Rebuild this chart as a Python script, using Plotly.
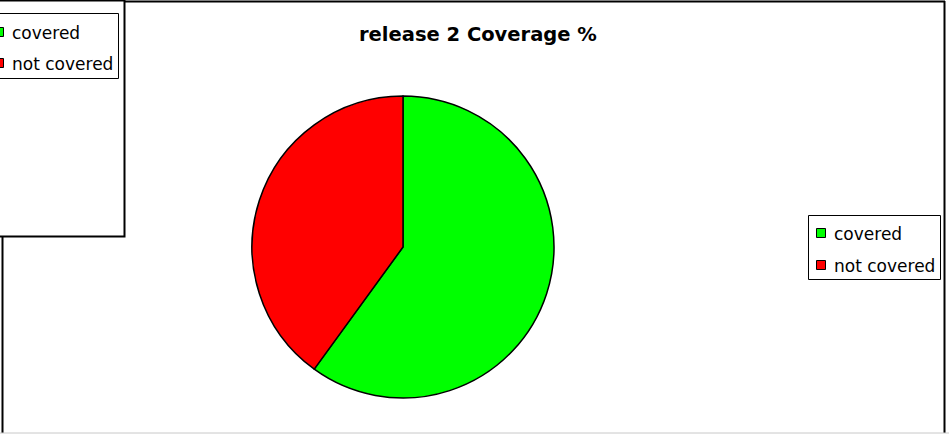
import plotly.graph_objects as go

# ---- data ----
labels = ["covered", "not covered"]
values = [60, 40]
colors = ["#00FF00", "#FF0000"]
title_text = "release 2 Coverage %"

W, H = 949, 434
FONT = "DejaVu Sans"

fig = go.Figure()

# pie (pixel box: x 251..555, y 96..398)
fig.add_trace(go.Pie(
    labels=labels, values=values, sort=False, direction="clockwise", rotation=0,
    marker=dict(colors=colors, line=dict(color="black", width=1.5)),
    textinfo="none", hoverinfo="label+percent", showlegend=False,
    domain=dict(x=[251 / W, 555 / W], y=[1 - 398 / H, 1 - 96 / H]),
))

shapes = []
annotations = []

# main frame
shapes.append(dict(type="line", x0=2.5, y0=1.5, x1=2.5, y1=433, line=dict(color="black", width=2)))
shapes.append(dict(type="line", x0=2, y0=1.5, x1=945, y1=1.5, line=dict(color="black", width=2)))
shapes.append(dict(type="line", x0=944.5, y0=1, x1=944.5, y1=433, line=dict(color="black", width=2)))
shapes.append(dict(type="line", x0=0, y0=433, x1=949, y1=433, line=dict(color="#c8c8c8", width=1)))


def legend(box, sq_x, text_x, rows):
    x0, y0, x1, y1 = box
    shapes.append(dict(type="rect", x0=x0, y0=y0, x1=x1, y1=y1,
                       line=dict(color="black", width=1), fillcolor="white"))
    for (lab, col), yc in zip(zip(labels, colors), rows):
        shapes.append(dict(type="rect", x0=sq_x, y0=yc - 4.5, x1=sq_x + 9, y1=yc + 4.5,
                           line=dict(color="black", width=1), fillcolor=col))
        annotations.append(dict(x=text_x, y=yc + 0.5, text=lab, showarrow=False,
                                xanchor="left", yanchor="middle", xref="x", yref="y",
                                font=dict(family=FONT, size=17, color="black")))


# top-left overlay panel
shapes.append(dict(type="rect", x0=-5, y0=0.5, x1=124.5, y1=236.5,
                   line=dict(color="black", width=2), fillcolor="white"))
legend((-5, 13.5, 118.5, 78.5), -5.5, 10, [32, 63])

# main legend
legend((808.5, 215.5, 940.5, 279.5), 816.5, 832, [233, 265])

# title
annotations.append(dict(x=477.5, y=34.5, text="<b>" + title_text + "</b>", showarrow=False,
                        xanchor="center", yanchor="middle", xref="x", yref="y",
                        font=dict(family=FONT, size=19.5, color="black")))

fig.update_layout(
    width=W, height=H, margin=dict(l=0, r=0, t=0, b=0),
    paper_bgcolor="white", plot_bgcolor="rgba(0,0,0,0)",
    xaxis=dict(range=[0, W], visible=False, fixedrange=True),
    yaxis=dict(range=[H, 0], visible=False, fixedrange=True),
    shapes=shapes, annotations=annotations, showlegend=False,
)

fig.write_html("out.html")
